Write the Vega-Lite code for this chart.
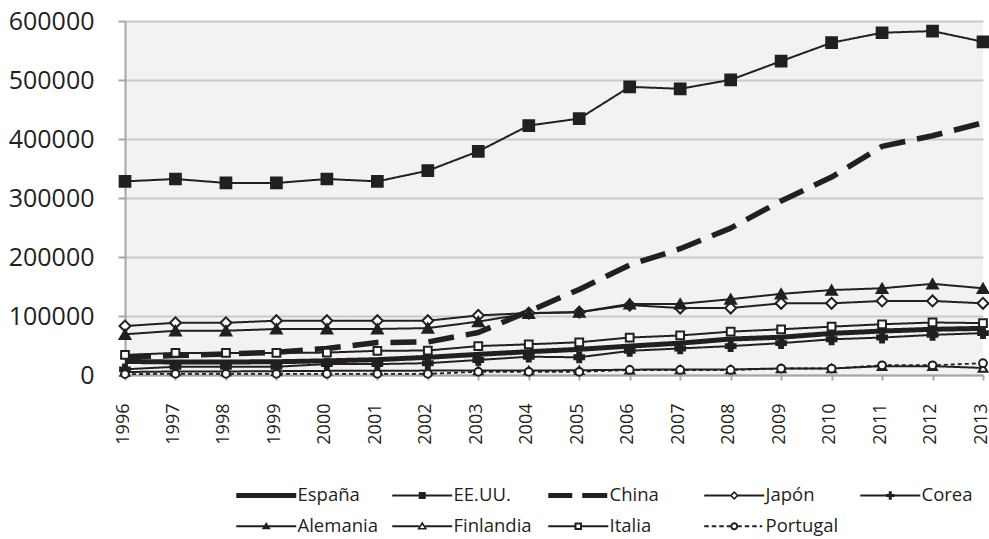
{
  "$schema": "https://vega.github.io/schema/vega-lite/v6.json",
  "autosize": "none",
  "width": 858,
  "height": 354,
  "padding": {"left": 125, "top": 21, "right": 6, "bottom": 164},
  "background": "white",
  "config": {
    "font": "Open Sans",
    "view": {"fill": "#f1f2f4", "stroke": null},
    "axis": {"labelFont": "Open Sans", "labelColor": "#231f20", "domainColor": "#a6a6a6", "domainWidth": 2, "tickColor": "#a6a6a6", "tickWidth": 2, "gridColor": "#c9c9c9", "gridWidth": 2, "title": null}
  },
  "data": {"values": [
    {"anio":"1996","pais":"España","valor":23000},{"anio":"1997","pais":"España","valor":22000},{"anio":"1998","pais":"España","valor":22000},{"anio":"1999","pais":"España","valor":22500},{"anio":"2000","pais":"España","valor":24000},{"anio":"2001","pais":"España","valor":26000},{"anio":"2002","pais":"España","valor":30000},{"anio":"2003","pais":"España","valor":35000},{"anio":"2004","pais":"España","valor":39500},{"anio":"2005","pais":"España","valor":43500},{"anio":"2006","pais":"España","valor":49000},{"anio":"2007","pais":"España","valor":54000},{"anio":"2008","pais":"España","valor":61000},{"anio":"2009","pais":"España","valor":64000},{"anio":"2010","pais":"España","valor":70500},{"anio":"2011","pais":"España","valor":74500},{"anio":"2012","pais":"España","valor":77500},{"anio":"2013","pais":"España","valor":79000},
    {"anio":"1996","pais":"EE.UU.","valor":328200},{"anio":"1997","pais":"EE.UU.","valor":332200},{"anio":"1998","pais":"EE.UU.","valor":325500},{"anio":"1999","pais":"EE.UU.","valor":325500},{"anio":"2000","pais":"EE.UU.","valor":332200},{"anio":"2001","pais":"EE.UU.","valor":328200},{"anio":"2002","pais":"EE.UU.","valor":346300},{"anio":"2003","pais":"EE.UU.","valor":379100},{"anio":"2004","pais":"EE.UU.","valor":422800},{"anio":"2005","pais":"EE.UU.","valor":434600},{"anio":"2006","pais":"EE.UU.","valor":488400},{"anio":"2007","pais":"EE.UU.","valor":485100},{"anio":"2008","pais":"EE.UU.","valor":500300},{"anio":"2009","pais":"EE.UU.","valor":532000},{"anio":"2010","pais":"EE.UU.","valor":563200},{"anio":"2011","pais":"EE.UU.","valor":580100},{"anio":"2012","pais":"EE.UU.","valor":582900},{"anio":"2013","pais":"EE.UU.","valor":564800},
    {"anio":"1996","pais":"China","valor":30500},{"anio":"1997","pais":"China","valor":33000},{"anio":"1998","pais":"China","valor":35500},{"anio":"1999","pais":"China","valor":38500},{"anio":"2000","pais":"China","valor":45000},{"anio":"2001","pais":"China","valor":55000},{"anio":"2002","pais":"China","valor":56000},{"anio":"2003","pais":"China","valor":72000},{"anio":"2004","pais":"China","valor":108000},{"anio":"2005","pais":"China","valor":145000},{"anio":"2006","pais":"China","valor":186500},{"anio":"2007","pais":"China","valor":214000},{"anio":"2008","pais":"China","valor":249000},{"anio":"2009","pais":"China","valor":295000},{"anio":"2010","pais":"China","valor":335500},{"anio":"2011","pais":"China","valor":387500},{"anio":"2012","pais":"China","valor":405500},{"anio":"2013","pais":"China","valor":427500},
    {"anio":"1996","pais":"Japón","valor":83000},{"anio":"1997","pais":"Japón","valor":88500},{"anio":"1998","pais":"Japón","valor":88500},{"anio":"1999","pais":"Japón","valor":92000},{"anio":"2000","pais":"Japón","valor":92000},{"anio":"2001","pais":"Japón","valor":92000},{"anio":"2002","pais":"Japón","valor":92000},{"anio":"2003","pais":"Japón","valor":101000},{"anio":"2004","pais":"Japón","valor":105000},{"anio":"2005","pais":"Japón","valor":106500},{"anio":"2006","pais":"Japón","valor":118500},{"anio":"2007","pais":"Japón","valor":113500},{"anio":"2008","pais":"Japón","valor":113500},{"anio":"2009","pais":"Japón","valor":121500},{"anio":"2010","pais":"Japón","valor":121500},{"anio":"2011","pais":"Japón","valor":125500},{"anio":"2012","pais":"Japón","valor":125500},{"anio":"2013","pais":"Japón","valor":121500},
    {"anio":"1996","pais":"Corea","valor":9600},{"anio":"1997","pais":"Corea","valor":14000},{"anio":"1998","pais":"Corea","valor":14000},{"anio":"1999","pais":"Corea","valor":14000},{"anio":"2000","pais":"Corea","valor":18500},{"anio":"2001","pais":"Corea","valor":18500},{"anio":"2002","pais":"Corea","valor":20000},{"anio":"2003","pais":"Corea","valor":25500},{"anio":"2004","pais":"Corea","valor":31000},{"anio":"2005","pais":"Corea","valor":30000},{"anio":"2006","pais":"Corea","valor":41000},{"anio":"2007","pais":"Corea","valor":45000},{"anio":"2008","pais":"Corea","valor":49000},{"anio":"2009","pais":"Corea","valor":54000},{"anio":"2010","pais":"Corea","valor":60500},{"anio":"2011","pais":"Corea","valor":63500},{"anio":"2012","pais":"Corea","valor":68000},{"anio":"2013","pais":"Corea","valor":71000},
    {"anio":"1996","pais":"Alemania","valor":69000},{"anio":"1997","pais":"Alemania","valor":75000},{"anio":"1998","pais":"Alemania","valor":75000},{"anio":"1999","pais":"Alemania","valor":78000},{"anio":"2000","pais":"Alemania","valor":78000},{"anio":"2001","pais":"Alemania","valor":78000},{"anio":"2002","pais":"Alemania","valor":79500},{"anio":"2003","pais":"Alemania","valor":90500},{"anio":"2004","pais":"Alemania","valor":104500},{"anio":"2005","pais":"Alemania","valor":106500},{"anio":"2006","pais":"Alemania","valor":120500},{"anio":"2007","pais":"Alemania","valor":120500},{"anio":"2008","pais":"Alemania","valor":128500},{"anio":"2009","pais":"Alemania","valor":137500},{"anio":"2010","pais":"Alemania","valor":144000},{"anio":"2011","pais":"Alemania","valor":147000},{"anio":"2012","pais":"Alemania","valor":154500},{"anio":"2013","pais":"Alemania","valor":147000},
    {"anio":"1996","pais":"Finlandia","valor":5000},{"anio":"1997","pais":"Finlandia","valor":6000},{"anio":"1998","pais":"Finlandia","valor":6000},{"anio":"1999","pais":"Finlandia","valor":6500},{"anio":"2000","pais":"Finlandia","valor":7000},{"anio":"2001","pais":"Finlandia","valor":7000},{"anio":"2002","pais":"Finlandia","valor":7500},{"anio":"2003","pais":"Finlandia","valor":7500},{"anio":"2004","pais":"Finlandia","valor":7500},{"anio":"2005","pais":"Finlandia","valor":8000},{"anio":"2006","pais":"Finlandia","valor":9000},{"anio":"2007","pais":"Finlandia","valor":9500},{"anio":"2008","pais":"Finlandia","valor":9500},{"anio":"2009","pais":"Finlandia","valor":11000},{"anio":"2010","pais":"Finlandia","valor":11000},{"anio":"2011","pais":"Finlandia","valor":15000},{"anio":"2012","pais":"Finlandia","valor":15000},{"anio":"2013","pais":"Finlandia","valor":12000},
    {"anio":"1996","pais":"Italia","valor":34000},{"anio":"1997","pais":"Italia","valor":37500},{"anio":"1998","pais":"Italia","valor":37500},{"anio":"1999","pais":"Italia","valor":37500},{"anio":"2000","pais":"Italia","valor":38000},{"anio":"2001","pais":"Italia","valor":41000},{"anio":"2002","pais":"Italia","valor":41500},{"anio":"2003","pais":"Italia","valor":49000},{"anio":"2004","pais":"Italia","valor":52000},{"anio":"2005","pais":"Italia","valor":55500},{"anio":"2006","pais":"Italia","valor":63500},{"anio":"2007","pais":"Italia","valor":67000},{"anio":"2008","pais":"Italia","valor":73500},{"anio":"2009","pais":"Italia","valor":77500},{"anio":"2010","pais":"Italia","valor":82000},{"anio":"2011","pais":"Italia","valor":86000},{"anio":"2012","pais":"Italia","valor":89000},{"anio":"2013","pais":"Italia","valor":88000},
    {"anio":"1996","pais":"Portugal","valor":1500},{"anio":"1997","pais":"Portugal","valor":2000},{"anio":"1998","pais":"Portugal","valor":2000},{"anio":"1999","pais":"Portugal","valor":2000},{"anio":"2000","pais":"Portugal","valor":2000},{"anio":"2001","pais":"Portugal","valor":2000},{"anio":"2002","pais":"Portugal","valor":2000},{"anio":"2003","pais":"Portugal","valor":5500},{"anio":"2004","pais":"Portugal","valor":5500},{"anio":"2005","pais":"Portugal","valor":5500},{"anio":"2006","pais":"Portugal","valor":8500},{"anio":"2007","pais":"Portugal","valor":8500},{"anio":"2008","pais":"Portugal","valor":8500},{"anio":"2009","pais":"Portugal","valor":11000},{"anio":"2010","pais":"Portugal","valor":11000},{"anio":"2011","pais":"Portugal","valor":16500},{"anio":"2012","pais":"Portugal","valor":16500},{"anio":"2013","pais":"Portugal","valor":20000}
  ]},
  "encoding": {
    "x": {"field": "anio", "type": "ordinal", "scale": {"type": "point", "padding": 0},
      "axis": {"labelAngle": -90, "labelFontSize": 18, "labelOffset": -2, "tickSize": 5, "labelPadding": 23, "grid": false, "domain": true}},
    "y": {"field": "valor", "type": "quantitative", "scale": {"domain": [0, 600000], "nice": false},
      "axis": {"values": [0, 100000, 200000, 300000, 400000, 500000, 600000], "format": "d", "labelFontSize": 25, "tickSize": 7, "labelPadding": 24, "grid": true, "domain": true}}
  },
  "layer": [
    {
      "mark": {"type": "line", "stroke": "#231f20", "strokeCap": "butt", "strokeJoin": "round"},
      "encoding": {
        "detail": {"field": "pais"},
        "strokeDash": {"field": "pais", "type": "nominal", "legend": null,
          "scale": {"domain": ["España","EE.UU.","China","Japón","Corea","Alemania","Finlandia","Italia","Portugal"],
            "range": [[1,0],[1,0],[26,12],[1,0],[1,0],[1,0],[1,0],[1,0],[4,3]]}},
        "strokeWidth": {"field": "pais", "type": "nominal", "legend": null,
          "scale": {"type": "ordinal", "domain": ["España","EE.UU.","China","Japón","Corea","Alemania","Finlandia","Italia","Portugal"],
            "range": [5,2,5.5,2,2,2,2,2,1.8]}}
      }
    },
    {
      "transform": [{"filter": "datum.pais != 'España' && datum.pais != 'China'"}],
      "mark": {"type": "point", "filled": true, "opacity": 1, "stroke": "#231f20", "strokeWidth": 2},
      "encoding": {
        "shape": {"field": "pais", "type": "nominal", "legend": null,
          "scale": {"domain": ["EE.UU.","Japón","Corea","Alemania","Finlandia","Italia","Portugal"],
            "range": ["square","diamond","cross","triangle-up","triangle-up","square","circle"]}},
        "fill": {"field": "pais", "type": "nominal", "legend": null,
          "scale": {"domain": ["EE.UU.","Japón","Corea","Alemania","Finlandia","Italia","Portugal"],
            "range": ["#231f20","white","#231f20","#231f20","white","white","white"]}},
        "size": {"field": "pais", "type": "nominal", "legend": null,
          "scale": {"type": "ordinal", "domain": ["EE.UU.","Japón","Corea","Alemania","Finlandia","Italia","Portugal"],
            "range": [115,120,95,115,75,60,60]}}
      }
    },
    {
      "transform": [{"filter": "false"}],
      "mark": {"type": "point", "filled": true, "opacity": 1, "fill": "#231f20", "strokeWidth": 0, "size": 100},
      "encoding": {
        "shape": {"field": "pais", "type": "nominal",
          "scale": {"domain": ["España","EE.UU.","China","Japón","Corea","Alemania","Finlandia","Italia","Portugal"],
            "range": [
              "M-11,-0.5H1V0.5H-11Z",
              "M-11,-0.2H1V0.2H-11Z M-5.7,-0.7H-4.3V0.7H-5.7Z",
              "M-11,-0.5H-6.2V0.5H-11Z M-4.2,-0.5H0.8V0.5H-4.2Z",
              "M-11,-0.2H-5.7V0.2H-11Z M-4.3,-0.2H1V0.2H-4.3Z M-5,-0.9L-4.1,0L-5,0.9L-5.9,0Z M-5,-0.45L-5.45,0L-5,0.45L-4.55,0Z",
              "M-11,-0.2H1V0.2H-11Z M-5.3,-0.85H-4.7V-0.3H-4.15V0.3H-4.7V0.85H-5.3V0.3H-5.85V-0.3H-5.3Z",
              "M-11,-0.2H1V0.2H-11Z M-5,-0.85L-4.1,0.6L-5.9,0.6Z",
              "M-11,-0.2H-5.6V0.2H-11Z M-4.4,-0.2H1V0.2H-4.4Z M-5,-0.95L-4,0.65L-6,0.65Z M-5,-0.3L-5.45,0.35L-4.55,0.35Z",
              "M-11,-0.2H-5.75V0.2H-11Z M-4.25,-0.2H1V0.2H-4.25Z M-5.75,-0.75H-4.25V0.75H-5.75Z M-5.35,-0.35V0.35H-4.65V-0.35Z",
              "M-11,-0.2H-10.1V0.2H-11Z M-9.5,-0.2H-8.6V0.2H-9.5Z M-8,-0.2H-7.1V0.2H-8Z M-6.5,-0.2H-5.8V0.2H-6.5Z M-4.2,-0.2H-3.5V0.2H-4.2Z M-2.9,-0.2H-2V0.2H-2.9Z M-1.4,-0.2H-0.5V0.2H-1.4Z M0.1,-0.2H0.6V0.2H0.1Z M-5.8,0A0.8,0.8 0 1,1 -4.2,0A0.8,0.8 0 1,1 -5.8,0Z M-5.4,0A0.4,0.4 0 1,0 -4.6,0A0.4,0.4 0 1,0 -5.4,0Z"
            ]},
          "legend": {"title": null, "orient": "none", "legendX": 157, "legendY": 465, "direction": "horizontal", "columns": 5,
            "columnPadding": 14, "rowPadding": 12, "gridAlign": "all", "padding": 0, "labelOffset": -3,
            "labelFont": "Open Sans", "labelFontSize": 18.5, "labelColor": "#231f20", "labelLimit": 200,
            "symbolSize": 100, "symbolFillColor": "#231f20", "symbolStrokeWidth": 0, "symbolStrokeColor": "transparent", "symbolOpacity": 1}
        }
      }
    }
  ],
  "resolve": {"scale": {"shape": "independent", "fill": "independent", "size": "independent", "strokeDash": "independent", "strokeWidth": "independent"}}
}
